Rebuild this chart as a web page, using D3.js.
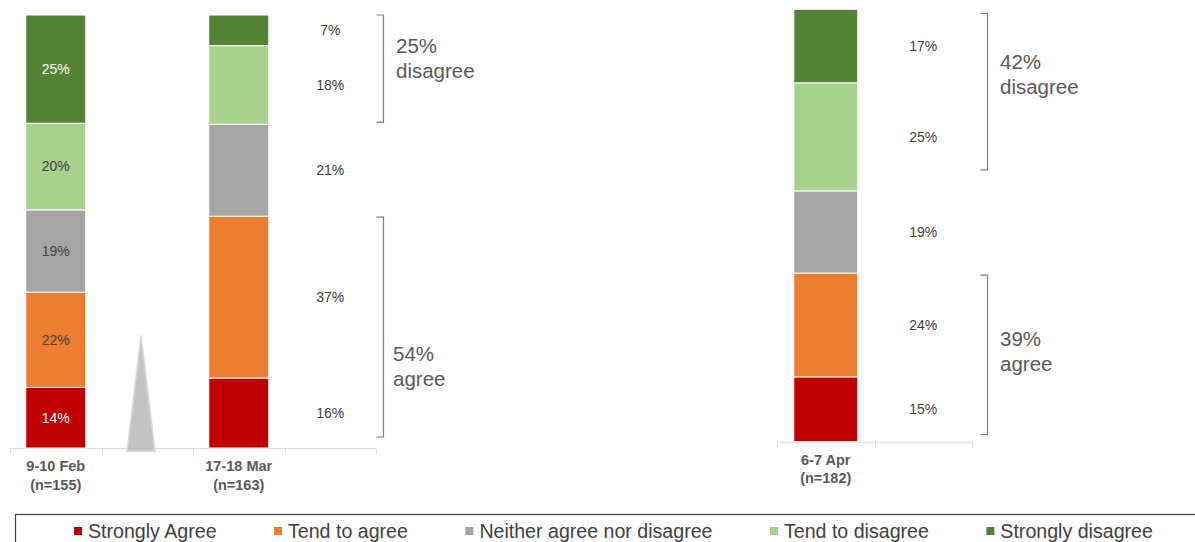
<!DOCTYPE html>
<html>
<head>
<meta charset="utf-8">
<script src="https://cdn.jsdelivr.net/npm/d3@7"></script>
<style>
  html, body { margin: 0; padding: 0; background: #ffffff; }
  svg { display: block; font-family: "Liberation Sans", Arial, sans-serif; }
</style>
</head>
<body>
<svg id="chart" width="1195" height="542"></svg>
<script>
// Survey waves and their sample sizes
const categories = ["9-10 Feb", "17-18 Mar", "6-7 Apr"];
const sampleSizes = ["(n=155)", "(n=163)", "(n=182)"];

// Response options, bottom of the stack first
const seriesNames = ["Strongly Agree", "Tend to agree", "Neither agree nor disagree", "Tend to disagree", "Strongly disagree"];
const seriesColors = ["#c00000", "#ed7d31", "#a5a5a5", "#a9d18e", "#548235"];

// Percentages per wave
const stronglyAgree    = [14, 16, 15];
const tendToAgree      = [22, 37, 24];
const neitherNor       = [19, 21, 19];
const tendToDisagree   = [20, 18, 25];
const stronglyDisagree = [25, 7, 17];

// Net totals shown beside the later waves
const netAgree    = [null, 54, 39];
const netDisagree = [null, 25, 42];

const seriesValues = [stronglyAgree, tendToAgree, neitherNor, tendToDisagree, stronglyDisagree];
const keys = seriesNames;

const rows = categories.map((c, i) => {
  const r = { cat: c };
  keys.forEach((k, j) => { r[k] = seriesValues[j][i]; });
  return r;
});

// 100% stacked columns
const stacked = d3.stack().keys(keys).offset(d3.stackOffsetExpand)(rows);

const svg = d3.select("#chart");
const FONT_LABEL = 14;

// Two panels: left holds Feb, a spacer and Mar, right holds Apr
const panels = [
  {
    domain: ["9-10 Feb", "gap", "17-18 Mar", "labelsMar"],
    xRange: [10, 376],
    yRange: [448, 15],
    cats: ["9-10 Feb", "17-18 Mar"]
  },
  {
    domain: ["6-7 Apr", "labelsApr"],
    xRange: [777, 972],
    yRange: [441.7, 9.3],
    cats: ["6-7 Apr"]
  }
];

panels.forEach(p => {
  p.x = d3.scaleBand().domain(p.domain).range(p.xRange).padding(0);
  p.y = d3.scaleLinear().domain([0, 1]).range(p.yRange);
  p.barW = p.x.bandwidth() * 0.656;
});

function panelOf(cat) { return panels.find(p => p.cats.includes(cat)); }
function labelBand(cat) {
  if (cat === "17-18 Mar") return "labelsMar";
  if (cat === "6-7 Apr") return "labelsApr";
  return null;
}

// Axes: a light baseline with ticks between the category slots
panels.forEach(p => {
  const g = svg.append("g");
  const y0 = p.y(0);
  g.append("line")
    .attr("x1", p.xRange[0]).attr("x2", p.xRange[1])
    .attr("y1", y0 + 0.5).attr("y2", y0 + 0.5)
    .attr("stroke", "#d9d9d9").attr("stroke-width", 1);
  const bounds = p.domain.map(d => p.x(d)).concat([p.xRange[1]]);
  g.selectAll("line.tick").data(bounds).join("line")
    .attr("class", "tick")
    .attr("x1", d => Math.round(d) + 0.5).attr("x2", d => Math.round(d) + 0.5)
    .attr("y1", y0 + 0.5).attr("y2", y0 + 5.5)
    .attr("stroke", "#d9d9d9").attr("stroke-width", 1);

  p.cats.forEach(c => {
    const i = categories.indexOf(c);
    const cx = p.x(c) + p.x.bandwidth() / 2;
    const t = g.append("text")
      .attr("text-anchor", "middle")
      .attr("fill", "#595959")
      .attr("font-weight", "bold")
      .attr("font-size", 14.5);
    t.append("tspan").attr("x", cx).attr("y", y0 + 23).text(c);
    t.append("tspan").attr("x", cx).attr("y", y0 + 41.5).text(sampleSizes[i]);
  });
});

// Grey marker in the spacer slot of the left panel
{
  const p = panels[0];
  const bx = p.x("gap") + p.x.bandwidth() * 0.432;
  const half = 14;
  const apexY = p.y(0.26);
  const baseY = p.y(0) + 3.5;
  svg.append("path")
    .attr("d", `M${bx},${apexY} L${bx + half},${baseY} L${bx - half},${baseY} Z`)
    .attr("fill", "#c3c3c3")
    .attr("stroke", "#dadada")
    .attr("stroke-width", 1.5);
}

// Stacked bars
stacked.forEach((layer, j) => {
  layer.forEach((seg, i) => {
    const cat = categories[i];
    const p = panelOf(cat);
    const cx = p.x(cat) + p.x.bandwidth() / 2;
    svg.append("rect")
      .attr("x", cx - p.barW / 2)
      .attr("y", p.y(seg[1]))
      .attr("width", p.barW)
      .attr("height", p.y(seg[0]) - p.y(seg[1]))
      .attr("fill", seriesColors[j])
      .attr("stroke", "#ffffff")
      .attr("stroke-width", 1);
  });
});

// Value labels: inside the first column, beside the bar for the later ones
stacked.forEach((layer, j) => {
  layer.forEach((seg, i) => {
    const cat = categories[i];
    const p = panelOf(cat);
    const lb = labelBand(cat);
    const midY = p.y((seg[0] + seg[1]) / 2);
    const inside = lb === null;
    const cx = inside ? p.x(cat) + p.x.bandwidth() / 2 : p.x(lb) + p.x.bandwidth() / 2;
    const light = inside && (j === 0 || j === 4);
    svg.append("text")
      .attr("x", cx)
      .attr("y", midY)
      .attr("dy", "0.35em")
      .attr("text-anchor", "middle")
      .attr("font-size", FONT_LABEL)
      .attr("fill", light ? "#ffffff" : "#404040")
      .text(seriesValues[j][i] + "%");
  });
});

// Net agree / disagree brackets with their totals
const bracketLayout = [
  { cat: "17-18 Mar", kind: "disagree", bx: 383, topPad: 0, botPad: -2, tx: 396, ty: 53 },
  { cat: "17-18 Mar", kind: "agree",    bx: 383, topPad: 1, botPad: -11, tx: 393, ty: 361 },
  { cat: "6-7 Apr",   kind: "disagree", bx: 987, topPad: 4, botPad: -21, tx: 1000, ty: 69 },
  { cat: "6-7 Apr",   kind: "agree",    bx: 987, topPad: 2, botPad: -7, tx: 1000, ty: 346 }
];

bracketLayout.forEach(b => {
  const i = categories.indexOf(b.cat);
  const p = panelOf(b.cat);
  let top, bot, value;
  if (b.kind === "disagree") {
    top = p.y(stacked[4][i][1]);
    bot = p.y(stacked[3][i][0]);
    value = netDisagree[i];
  } else {
    top = p.y(stacked[1][i][1]);
    bot = p.y(stacked[0][i][0]);
    value = netAgree[i];
  }
  top += b.topPad;
  bot += b.botPad;
  const x = b.bx + 0.5;
  svg.append("path")
    .attr("d", `M${x - 7},${top} H${x} V${bot} H${x - 7}`)
    .attr("fill", "none")
    .attr("stroke", "#7f7f7f")
    .attr("stroke-width", 1.2);
  const t = svg.append("text")
    .attr("font-size", 20.5)
    .attr("fill", "#595959");
  t.append("tspan").attr("x", b.tx).attr("y", b.ty).text(value + "%");
  t.append("tspan").attr("x", b.tx).attr("y", b.ty + 25).text(b.kind);
});

// Legend: entries laid out left to right with an even gap between them
const lg = svg.append("g");
lg.append("rect")
  .attr("x", 15.5).attr("y", 514.5)
  .attr("width", 1200).attr("height", 60)
  .attr("fill", "none")
  .attr("stroke", "#404040")
  .attr("stroke-width", 1.2);
let cursor = 74;
seriesNames.forEach((name, j) => {
  lg.append("rect")
    .attr("x", cursor).attr("y", 527)
    .attr("width", 8).attr("height", 8)
    .attr("fill", seriesColors[j]);
  const t = lg.append("text")
    .attr("x", cursor + 14).attr("y", 538)
    .attr("font-size", 19.6)
    .attr("fill", "#404040")
    .text(name);
  cursor += 14 + t.node().getComputedTextLength() + 57.5;
});
</script>
</body>
</html>
